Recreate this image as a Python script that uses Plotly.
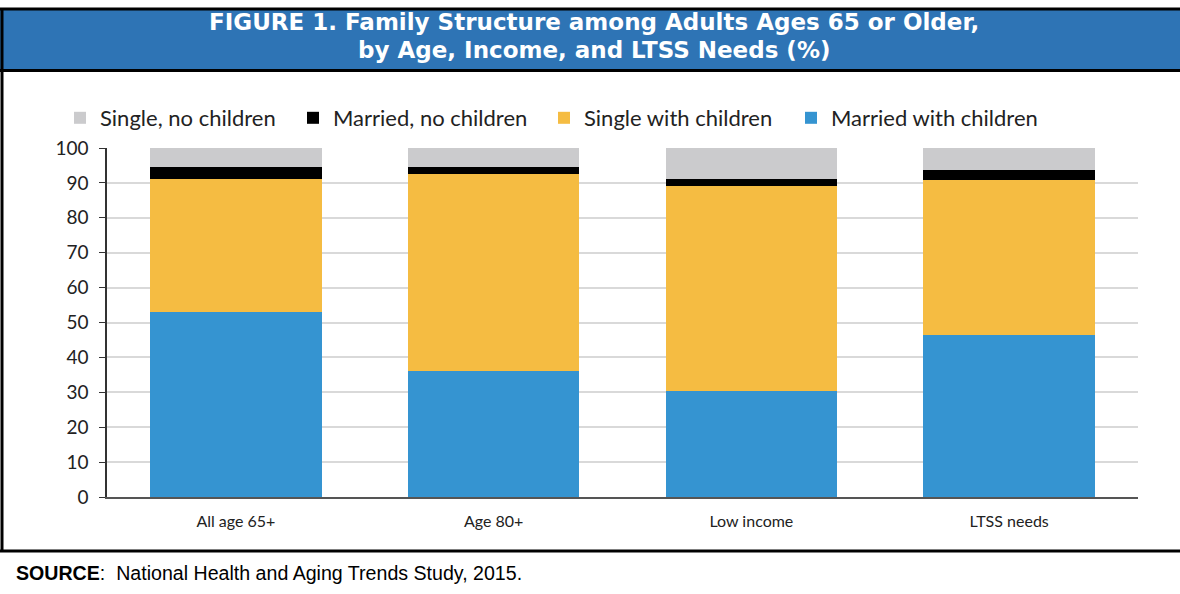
import plotly.graph_objects as go

categories = ["All age 65+", "Age 80+", "Low income", "LTSS needs"]
married_with_children = [53.0, 36.0, 30.5, 46.5]
single_with_children = [38.0, 56.5, 58.5, 44.3]
married_no_children = [3.5, 2.0, 2.0, 2.9]
single_no_children = [5.5, 5.5, 9.0, 6.3]
y_ticks = [0, 10, 20, 30, 40, 50, 60, 70, 80, 90, 100]

W_PX, H_PX = 1180, 594
L, R, T, B = 107, 1138, 148, 497


def px(x):
    return (x - L) / (R - L)


def py(y):
    return (B - y) / (B - T)


# (name, values, colour, legend id, legend left edge in px)
series = [
    ("Married with children", married_with_children, "#3594D1", "legend4", 791),
    ("Single with children", single_with_children, "#F5BC42", "legend3", 544),
    ("Married, no children", married_no_children, "#000000", "legend2", 293),
    ("Single, no children", single_no_children, "#CBCBCD", "legend", 60),
]

fig = go.Figure()
legend_layouts = {}
for name, vals, col, leg, lx in series:
    fig.add_trace(go.Bar(
        x=categories, y=vals, name=name, legend=leg,
        marker=dict(color=col, line=dict(width=0)),
        hoverinfo="x+y+name",
    ))
    legend_layouts[leg] = dict(orientation="h", x=px(lx), y=py(118), xanchor="left", yanchor="middle",
                               font=dict(family="Lato, sans-serif", size=22, color="#222222"),
                               itemwidth=30, bgcolor="rgba(0,0,0,0)")

shapes = [
    dict(type="rect", xref="paper", yref="paper", x0=px(0), x1=px(W_PX), y0=py(70), y1=py(9),
         fillcolor="#2E74B5", line=dict(width=0), layer="below"),
    dict(type="line", xref="paper", yref="paper", x0=px(0), x1=px(W_PX), y0=py(9), y1=py(9),
         line=dict(color="#000000", width=3)),
    dict(type="line", xref="paper", yref="paper", x0=px(0), x1=px(W_PX), y0=py(70.5), y1=py(70.5),
         line=dict(color="#000000", width=3)),
    dict(type="line", xref="paper", yref="paper", x0=px(2), x1=px(2), y0=py(9), y1=py(551),
         line=dict(color="#000000", width=3)),
    dict(type="line", xref="paper", yref="paper", x0=px(0), x1=px(W_PX), y0=py(551), y1=py(551),
         line=dict(color="#000000", width=3)),
]

title_font = dict(family="DejaVu Sans, Liberation Sans, Arial, sans-serif", size=23, color="#FFFFFF")
annotations = [
    dict(xref="paper", yref="paper", x=px(594), y=py(22), xanchor="center", yanchor="middle",
         text="<b>FIGURE 1. Family Structure among Adults Ages 65 or Older,</b>",
         showarrow=False, font=title_font),
    dict(xref="paper", yref="paper", x=px(594), y=py(49.5), xanchor="center", yanchor="middle",
         text="<b>by Age, Income, and LTSS Needs (%)</b>",
         showarrow=False, font=title_font),
    dict(xref="paper", yref="paper", x=px(14), y=py(573), xanchor="left", yanchor="middle",
         text="<b>SOURCE</b>:  National Health and Aging Trends Study, 2015.",
         showarrow=False, align="left",
         font=dict(family="Liberation Sans, Arial, sans-serif", size=19.6, color="#000000")),
]

fig.update_layout(
    width=W_PX, height=H_PX,
    margin=dict(l=L, r=W_PX - R, t=T, b=H_PX - B, autoexpand=False),
    paper_bgcolor="#FFFFFF", plot_bgcolor="#FFFFFF",
    barmode="stack", bargap=0.335,
    showlegend=True,
    shapes=shapes, annotations=annotations,
    font=dict(family="Lato, sans-serif", color="#222222"),
    **legend_layouts,
)
fig.update_yaxes(range=[0, 100], tickvals=y_ticks, showgrid=True, gridcolor="#D9D9D9", gridwidth=1.5,
                 showline=True, linecolor="#333333", linewidth=1.5, ticks="outside", ticklen=6,
                 tickcolor="#333333", ticklabelstandoff=7,
                 tickfont=dict(family="Lato, sans-serif", size=19, color="#222222"),
                 zeroline=False, fixedrange=True)
fig.update_xaxes(showline=True, linecolor="#555555", linewidth=2, ticks="", ticklabelstandoff=9,
                 tickfont=dict(family="Lato, sans-serif", size=16, color="#222222"), fixedrange=True)

fig.write_html("out.html", config={"displayModeBar": False},
               post_script="document.body.style.margin='0';document.body.style.overflow='hidden';")
